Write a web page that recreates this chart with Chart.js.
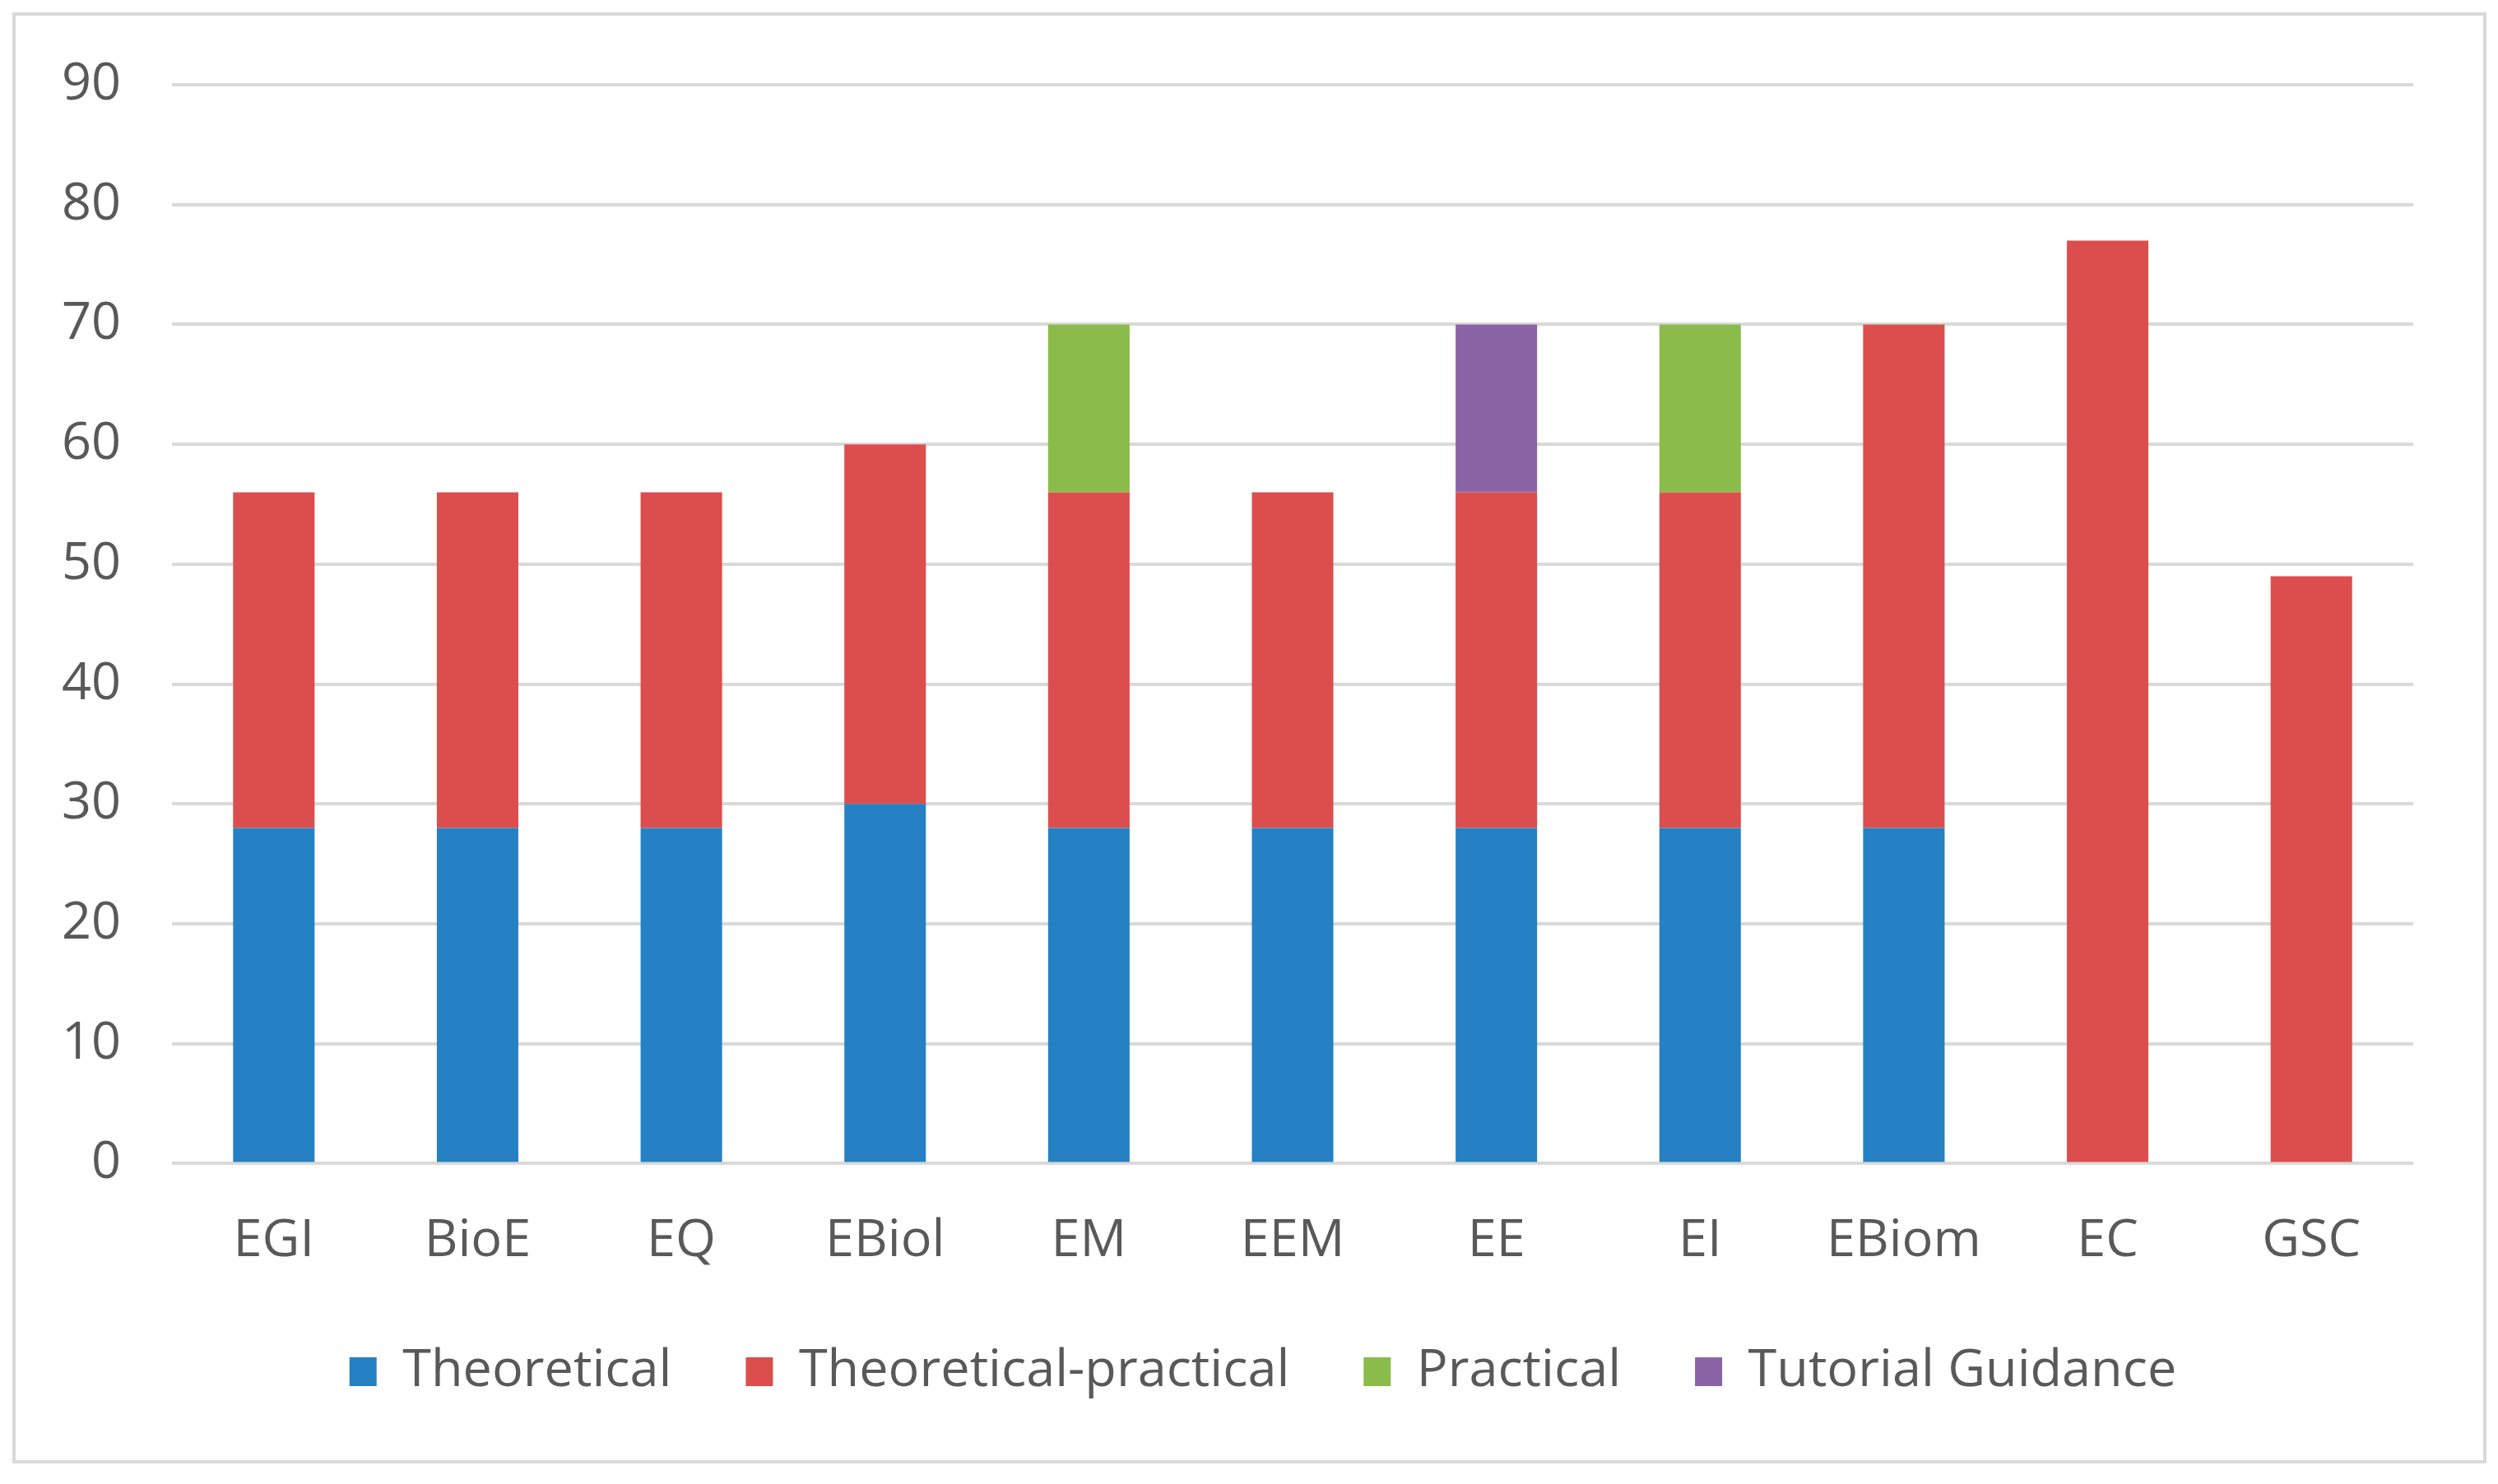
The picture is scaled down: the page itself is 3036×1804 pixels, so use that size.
<!DOCTYPE html>
<html>
<head>
<meta charset="utf-8">
<script src="https://cdn.jsdelivr.net/npm/chart.js@4"></script>
<style>
  html, body { margin: 0; padding: 0; background: #ffffff; }
  #wrap { position: relative; width: 3036px; height: 1804px; }
</style>
</head>
<body>
<div id="wrap"><canvas id="c" width="3036" height="1804"></canvas></div>
<script>
const categories = ["EGI", "BioE", "EQ", "EBiol", "EM", "EEM", "EE", "EI", "EBiom", "EC", "GSC"];
const theoretical = [28, 28, 28, 30, 28, 28, 28, 28, 28, 0, 0];
const theoreticalPractical = [28, 28, 28, 30, 28, 28, 28, 28, 42, 77, 49];
const practical = [0, 0, 0, 0, 14, 0, 0, 14, 0, 0, 0];
const tutorialGuidance = [0, 0, 0, 0, 0, 0, 14, 0, 0, 0, 0];
const seriesNames = ["Theoretical", "Theoretical-practical", "Practical", "Tutorial Guidance"];
const seriesColors = ["#2581C4", "#DC4E4D", "#8BBB4B", "#8B64A6"];
const yMin = 0, yMax = 90, yStep = 10;

const FONT = "'Open Sans', 'Noto Sans', sans-serif";
const TEXT = "#595959";
const GRID = "#D9D9D9";

const frame = {
  id: "frame",
  beforeDraw(chart) {
    const ctx = chart.ctx;
    ctx.save();
    ctx.fillStyle = "#ffffff";
    ctx.fillRect(0, 0, chart.width, chart.height);
    ctx.strokeStyle = GRID;
    ctx.lineWidth = 4;
    ctx.strokeRect(17, 17, 3003, 1760);
    ctx.restore();
  }
};

// nudge the legend block to sit where the reference has it
const legendNudge = {
  id: "legendNudge",
  afterLayout(chart) {
    const lg = chart.legend;
    if (!lg) return;
    const dy = -58, dx = 60;
    lg.top += dy; lg.bottom += dy;
    lg.left += dx; lg.right += dx;
  }
};

const values = [theoretical, theoreticalPractical, practical, tutorialGuidance];
const datasets = seriesNames.map((name, i) => ({
  label: name,
  data: values[i],
  backgroundColor: seriesColors[i],
  borderWidth: 0,
  categoryPercentage: 1.0,
  barPercentage: 0.4
}));

new Chart(document.getElementById("c"), {
  type: "bar",
  data: { labels: categories, datasets: datasets },
  plugins: [frame, legendNudge],
  options: {
    responsive: false,
    animation: false,
    devicePixelRatio: 1,
    layout: { padding: { left: 17, right: 103, top: 103, bottom: 37 } },
    plugins: {
      legend: {
        position: "bottom",
        labels: {
          font: { family: FONT, size: 63 },
          color: TEXT,
          boxWidth: 33,
          boxHeight: 35,
          padding: 90
        }
      },
      tooltip: { enabled: false }
    },
    scales: {
      x: {
        stacked: true,
        grid: { display: false, drawTicks: false },
        border: { display: false },
        ticks: { font: { family: FONT, size: 63 }, color: TEXT, padding: 57, maxRotation: 0 }
      },
      y: {
        stacked: true,
        min: yMin,
        max: yMax,
        afterFit(axis) { axis.width = 192; },
        grid: { color: GRID, lineWidth: 4, drawTicks: false },
        border: { display: false },
        ticks: { stepSize: yStep, font: { family: FONT, size: 63 }, color: TEXT, padding: 62 }
      }
    }
  }
});
</script>
</body>
</html>
